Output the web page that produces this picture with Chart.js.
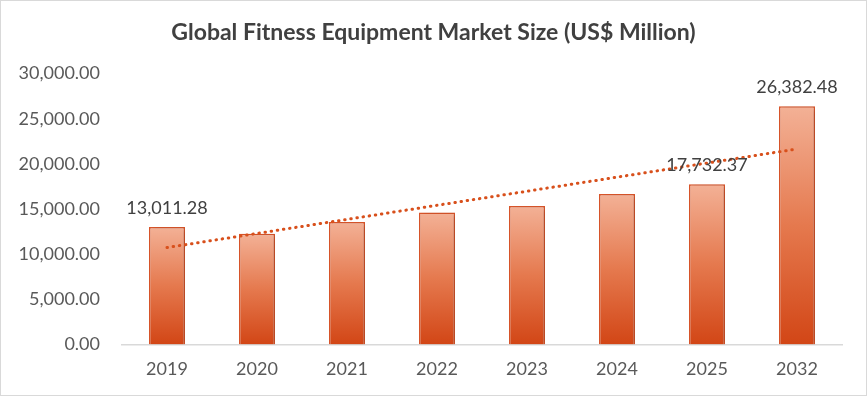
<!DOCTYPE html>
<html>
<head>
<meta charset="utf-8">
<script src="https://cdn.jsdelivr.net/npm/chart.js@4/dist/chart.umd.min.js"></script>
<style>
  html, body { margin: 0; padding: 0; background: #fff; }
  #wrap { position: relative; width: 867px; height: 396px; box-sizing: border-box; border: 1px solid #d9d9d9; }
  #chart { display: block; }
</style>
</head>
<body>
<div id="wrap"><canvas id="chart" width="865" height="394"></canvas></div>
<script>
/* Data */
var YEARS  = ['2019', '2020', '2021', '2022', '2023', '2024', '2025', '2032'];
var VALUES = [13011.28, 12250, 13550, 14600, 15330, 16650, 17732.37, 26382.48];
var LABELED = ['2019', '2025', '2032'];   // years that carry a value label
var Y_TICKS = [0, 5000, 10000, 15000, 20000, 25000, 30000];

var FONT = "Lato, 'Open Sans', sans-serif";

/* Linear trendline (least squares over category index), as the spreadsheet does */
function trend(vals) {
  var n = vals.length, sx = 0, sy = 0, sxy = 0, sxx = 0;
  vals.forEach(function (v, i) { sx += i; sy += v; sxy += i * v; sxx += i * i; });
  var b = (n * sxy - sx * sy) / (n * sxx - sx * sx);
  var a = (sy - b * sx) / n;
  return vals.map(function (v, i) { return a + b * i; });
}

function fmt(v) {
  return v.toLocaleString('en-US', { minimumFractionDigits: 2, maximumFractionDigits: 2 });
}

function barGradient(c) {
  var chart = c.chart;
  if (!chart.chartArea || c.type !== 'data') return '#e57c52';
  var y = chart.scales.y;
  var top = y.getPixelForValue(c.raw);
  var bot = y.getPixelForValue(0);
  var g = chart.ctx.createLinearGradient(0, top, 0, bot);
  g.addColorStop(0, '#f3b196');
  g.addColorStop(0.5, '#e5794e');
  g.addColorStop(1, '#d24616');
  return g;
}

/* soft shadow behind the bars */
var barShadow = {
  id: 'barShadow',
  beforeDatasetDraw: function (chart, args) {
    if (args.meta.type !== 'bar') return;
    var ctx = chart.ctx;
    ctx.save();
    ctx.shadowColor = 'rgba(0,0,0,0.22)';
    ctx.shadowBlur = 5;
    ctx.shadowOffsetX = 2;
    ctx.shadowOffsetY = 1;
  },
  afterDatasetDraw: function (chart, args) {
    if (args.meta.type !== 'bar') return;
    chart.ctx.restore();
  }
};

/* value labels above selected bars */
var valueLabels = {
  id: 'valueLabels',
  afterDatasetsDraw: function (chart) {
    var meta = chart.getDatasetMeta(0);
    var ctx = chart.ctx;
    ctx.save();
    ctx.font = '18px ' + FONT;
    ctx.fillStyle = '#404040';
    ctx.textAlign = 'center';
    ctx.textBaseline = 'bottom';
    meta.data.forEach(function (bar, i) {
      if (LABELED.indexOf(YEARS[i]) < 0) return;
      ctx.fillText(fmt(VALUES[i]), bar.x, bar.y - 10);
    });
    ctx.restore();
  }
};

new Chart(document.getElementById('chart'), {
  data: {
    labels: YEARS,
    datasets: [
      {
        type: 'bar',
        label: 'Market Size',
        data: VALUES,
        backgroundColor: barGradient,
        borderColor: '#d9552a',
        borderWidth: 1.5,
        barPercentage: 0.4,
        categoryPercentage: 1,
        order: 1
      },
      {
        type: 'line',
        label: 'Trend',
        data: trend(VALUES),
        borderColor: '#d8501c',
        borderWidth: 3,
        borderDash: [0.5, 5.7],
        borderCapStyle: 'round',
        pointRadius: 0,
        fill: false,
        order: 0
      }
    ]
  },
  options: {
    responsive: false,
    animation: false,
    layout: { padding: { left: 0, right: 0, top: 0, bottom: 1 } },
    plugins: {
      legend: { display: false },
      tooltip: { enabled: false },
      title: {
        display: true,
        text: 'Global Fitness Equipment Market Size (US$ Million)',
        color: '#404040',
        font: { family: FONT, size: 23, weight: 'bold' },
        padding: { top: 18, bottom: 27 }
      }
    },
    scales: {
      x: {
        grid: { display: false, drawTicks: false },
        border: { display: true, color: '#d9d9d9', width: 1.5 },
        ticks: { color: '#595959', font: { family: FONT, size: 18 }, padding: 14 }
      },
      y: {
        min: 0,
        max: 30000,
        afterBuildTicks: function (scale) {
          scale.ticks = Y_TICKS.map(function (v) { return { value: v }; });
        },
        afterFit: function (scale) { scale.width = 121; },
        grid: { display: false, drawTicks: false },
        border: { display: false },
        ticks: {
          color: '#595959',
          font: { family: FONT, size: 18 },
          padding: 22,
          callback: function (v) { return fmt(v); }
        }
      },
      /* empty right-hand gutter, keeps the title centred on the canvas */
      gutter: {
        type: 'linear',
        position: 'right',
        afterFit: function (scale) { scale.width = 24; },
        grid: { display: false, drawTicks: false },
        border: { display: false },
        ticks: { display: false }
      }
    }
  },
  plugins: [barShadow, valueLabels]
});
</script>
</body>
</html>
